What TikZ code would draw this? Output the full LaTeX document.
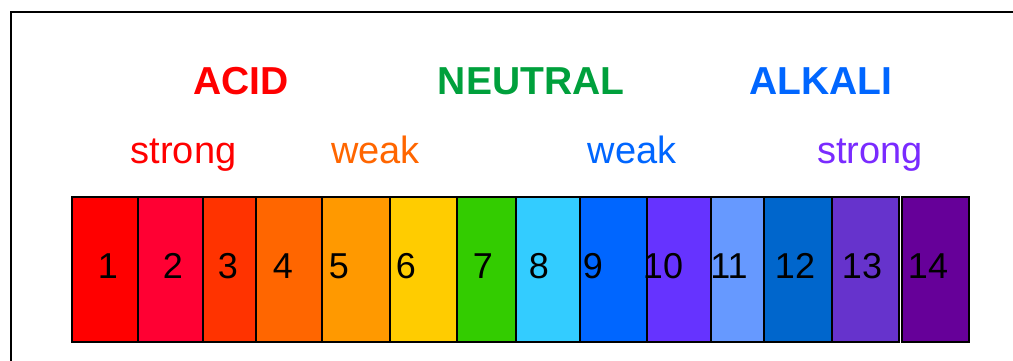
\documentclass[tikz,border=0pt]{standalone}
\usepackage{fontspec}
\setmainfont{Liberation Sans}
\usetikzlibrary{positioning}

% scale colours
\definecolor{phA}{HTML}{FF0000}
\definecolor{phB}{HTML}{FF0033}
\definecolor{phC}{HTML}{FF3300}
\definecolor{phD}{HTML}{FF6600}
\definecolor{phE}{HTML}{FF9900}
\definecolor{phF}{HTML}{FFCC00}
\definecolor{phG}{HTML}{33CC00}
\definecolor{phH}{HTML}{33CCFF}
\definecolor{phI}{HTML}{0066FF}
\definecolor{phJ}{HTML}{6633FF}
\definecolor{phK}{HTML}{6699FF}
\definecolor{phL}{HTML}{0066CC}
\definecolor{phM}{HTML}{6633CC}
\definecolor{phN}{HTML}{660099}
% label colours
\definecolor{acidred}{HTML}{FF0000}
\definecolor{neutralgreen}{HTML}{00A03C}
\definecolor{alkaliblue}{HTML}{0066FF}
\definecolor{weakorange}{HTML}{FF6600}
\definecolor{strongpurple}{HTML}{7A2BFF}

\begin{document}
\begin{tikzpicture}[x=1pt, y=-1pt,
    bigword/.style={font=\fontsize{39}{40}\selectfont\bfseries, anchor=base, inner sep=0pt},
    smallword/.style={font=\fontsize{38}{40}\selectfont, anchor=base, inner sep=0pt},
    phnum/.style={font=\fontsize{36}{38}\selectfont, anchor=base, inner sep=0pt}]

\clip (0,0) rectangle (1013,361);
\fill[white] (0,0) rectangle (1013,361);

% Outer frame (runs off the right and bottom edges)
\draw[line width=2pt] (11,12) rectangle (1040,400);

% Helper macro for one cell of the scale
% Arguments: left x, right x, colour, number x, number
\def\phcell#1#2#3#4#5{
    \filldraw[fill=#3, draw=black, line width=1.3pt] (#1,197) rectangle (#2,342);
    \node[phnum] (num#5) at (#4,278) {#5};
}

% Headings
\node[bigword, text=acidred] (acid) at (241,95) {ACID};
\node[bigword, text=neutralgreen] (neutral) at (531,95) {NEUTRAL};
\node[bigword, text=alkaliblue] (alkali) at (821,95) {ALKALI};

% Strength labels
\node[smallword, text=acidred] (strongacid) at (183.5,164) {strong};
\node[smallword, text=weakorange] (weakacid) at (375.5,164) {weak};
\node[smallword, text=alkaliblue] (weakalkali) at (632,164) {weak};
\node[smallword, text=strongpurple] (strongalkali) at (870,164) {strong};

% The cells
\phcell{72}{138}{phA}{108}{1}
\phcell{138}{203}{phB}{173}{2}
\phcell{203}{256}{phC}{228}{3}
\phcell{256}{322}{phD}{283}{4}
\phcell{322}{390}{phE}{339}{5}
\phcell{390}{457}{phF}{406}{6}
\phcell{457}{516}{phG}{483}{7}
\phcell{516}{580}{phH}{539}{8}
\phcell{580}{647}{phI}{593}{9}
\phcell{647}{711}{phJ}{663}{10}
\phcell{711}{764}{phK}{729}{11}
\phcell{764}{832}{phL}{795}{12}
\phcell{832}{899}{phM}{862}{13}
\phcell{902}{969}{phN}{928}{14}

% heavier dividers
\draw[line width=2.5pt] (457,197) -- (457,342);
\draw[line width=2.5pt] (832,197) -- (832,342);

\end{tikzpicture}
\end{document}
